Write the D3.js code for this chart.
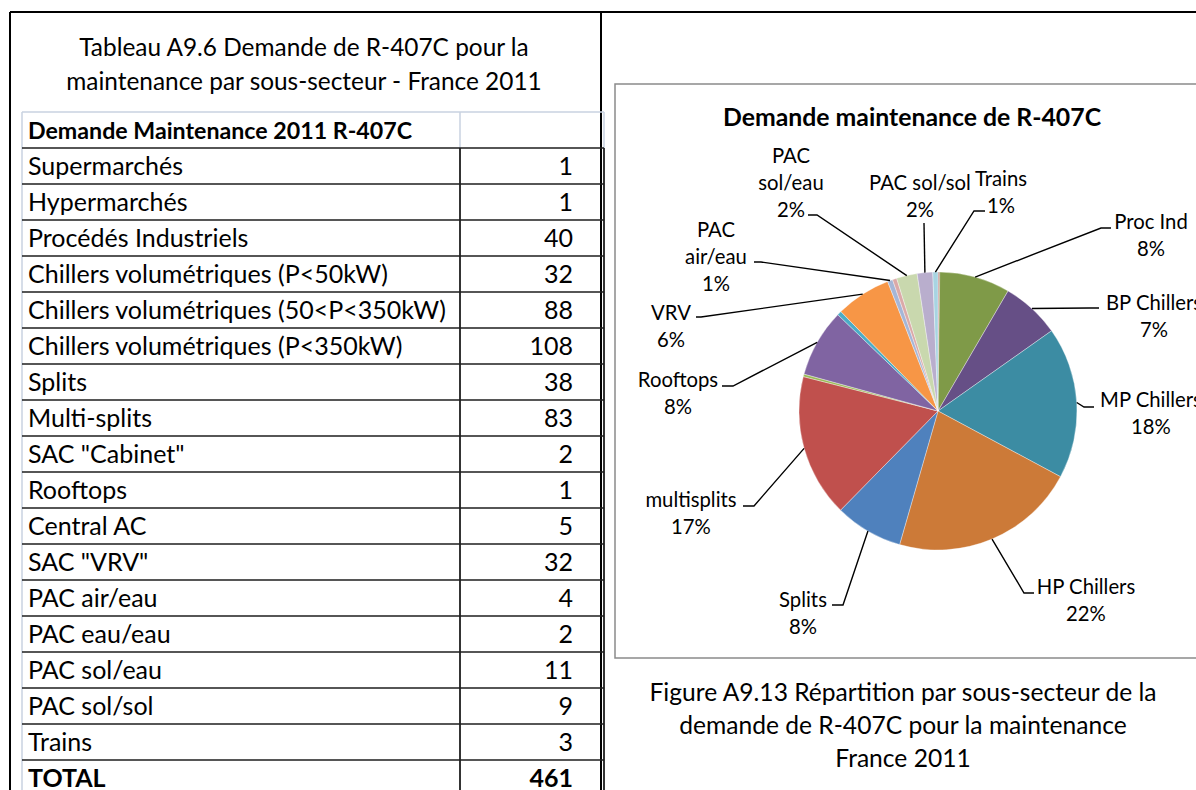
<!DOCTYPE html>
<html>
<head>
<meta charset="utf-8">
<script src="https://cdn.jsdelivr.net/npm/d3@7"></script>
<style>
  html, body { margin: 0; padding: 0; background: #fff; }
  svg { display: block; font-family: Lato, "Open Sans", sans-serif; }
</style>
</head>
<body>
<svg id="fig" width="1196" height="790"></svg>
<script>
// ---- Table: R-407C maintenance demand by sub-sector ----
const tableCaption = ["Tableau A9.6 Demande de R-407C pour la",
                      "maintenance par sous-secteur - France 2011"];
const tableHeader = "Demande Maintenance 2011 R-407C";
const tableRows = ["Supermarchés", "Hypermarchés", "Procédés Industriels",
  "Chillers volumétriques (P<50kW)", "Chillers volumétriques (50<P<350kW)",
  "Chillers volumétriques (P<350kW)", "Splits", "Multi-splits", "SAC \"Cabinet\"",
  "Rooftops", "Central AC", "SAC \"VRV\"", "PAC air/eau", "PAC eau/eau",
  "PAC sol/eau", "PAC sol/sol", "Trains"];
const tableValues = [1, 1, 40, 32, 88, 108, 38, 83, 2, 1, 5, 32, 4, 2, 11, 9, 3];
const totalLabel = "TOTAL";
const totalValue = 461;

// ---- Pie: share of maintenance demand ----
const chartTitle = "Demande maintenance de R-407C";
const pieNames = ["Supermarchés", "Hypermarchés", "Proc Ind", "BP Chillers",
  "MP Chillers", "HP Chillers", "Splits", "multisplits", "SAC Cabinet", "Rooftops",
  "Central AC", "VRV", "PAC air/eau", "PAC eau/eau", "PAC sol/eau", "PAC sol/sol", "Trains"];
const pieValues = [1, 1, 82, 68, 176, 216, 79, 166, 3, 79, 5, 64, 6, 5, 24, 18, 6];
// Label text per slice ("" = no label drawn)
const pieLabelText = ["", "", "Proc Ind", "BP Chillers", "MP Chillers", "HP Chillers",
  "Splits", "multisplits", "", "Rooftops", "", "VRV", "PAC\nair/eau", "",
  "PAC\nsol/eau", "PAC sol/sol", "Trains"];
const pieColors = ["#A3403D", "#8E3533", "#7F9A48", "#664F86", "#3C8CA3", "#CC7A38",
  "#4F81BD", "#C0504D", "#9BBB59", "#8064A2", "#4BACC6", "#F79646", "#A5B6D7",
  "#DBA9A8", "#C9D8AE", "#B9AECD", "#A8D4E2"];

const figureCaption = ["Figure A9.13 Répartition par sous-secteur de la",
  "demande de R-407C pour la maintenance", "France 2011"];

const svg = d3.select("#fig");

// ---- Outer frame ----
const frame = svg.append("g").attr("stroke", "#000").attr("stroke-width", 2);
frame.append("line").attr("x1", 10).attr("x2", 1196).attr("y1", 12).attr("y2", 12);
frame.append("line").attr("x1", 10).attr("x2", 10).attr("y1", 12).attr("y2", 790);
frame.append("line").attr("x1", 601).attr("x2", 601).attr("y1", 12).attr("y2", 790);

// ---- Table caption ----
svg.append("g").selectAll("text").data(tableCaption).join("text")
  .attr("x", 304).attr("y", (d, i) => 56 + i * 34)
  .attr("text-anchor", "middle").attr("font-size", 24.4).attr("fill", "#000")
  .text(d => d);

// ---- Table ----
const tLeft = 22, tMid = 460, tRight = 604;
const rowKeys = [tableHeader, ...tableRows, totalLabel];
const rowVals = [null, ...tableValues, totalValue];
const y = d3.scaleBand().domain(rowKeys).range([112, 112 + rowKeys.length * 36]).padding(0);

const table = svg.append("g");
// light gridlines of the header cells and left edge
table.append("line").attr("x1", tLeft).attr("x2", tRight).attr("y1", y(tableHeader)).attr("y2", y(tableHeader))
  .attr("stroke", "#C9D2E0").attr("stroke-width", 1.5);
table.append("line").attr("x1", tLeft).attr("x2", tLeft).attr("y1", y(tableHeader)).attr("y2", 790)
  .attr("stroke", "#C9D2E0").attr("stroke-width", 1.5);
table.append("line").attr("x1", tMid).attr("x2", tMid).attr("y1", y(tableHeader)).attr("y2", y(tableRows[0]))
  .attr("stroke", "#C9D2E0").attr("stroke-width", 1.5);
table.append("line").attr("x1", tRight).attr("x2", tRight).attr("y1", y(tableHeader)).attr("y2", y(tableRows[0]))
  .attr("stroke", "#C9D2E0").attr("stroke-width", 1.5);
// dark borders of the data cells
const dataKeys = [...tableRows, totalLabel];
table.append("g").selectAll("line").data(dataKeys).join("line")
  .attr("x1", tLeft).attr("x2", tRight)
  .attr("y1", d => y(d)).attr("y2", d => y(d))
  .attr("stroke", "#1e1e1e").attr("stroke-width", 1.6);
table.append("line").attr("x1", tMid).attr("x2", tMid).attr("y1", y(tableRows[0])).attr("y2", 790)
  .attr("stroke", "#1e1e1e").attr("stroke-width", 1.8);
table.append("line").attr("x1", tRight).attr("x2", tRight).attr("y1", y(tableRows[0])).attr("y2", 790)
  .attr("stroke", "#1e1e1e").attr("stroke-width", 1.8);

const boldRow = k => k === tableHeader || k === totalLabel;
const rowFs = 25;
table.append("g").selectAll("text").data(rowKeys).join("text")
  .attr("x", tLeft + 6).attr("y", d => y(d) + y.bandwidth() / 2 + 8.5)
  .attr("font-size", d => d === tableHeader ? 23.2 : rowFs)
  .attr("font-weight", d => boldRow(d) ? "bold" : "normal")
  .attr("fill", "#000").text(d => d);
table.append("g").selectAll("text").data(rowKeys.map((k, i) => [k, rowVals[i]]).filter(d => d[1] !== null)).join("text")
  .attr("x", 573).attr("y", d => y(d[0]) + y.bandwidth() / 2 + 8.5)
  .attr("text-anchor", "end").attr("font-size", rowFs)
  .attr("font-weight", d => boldRow(d[0]) ? "bold" : "normal")
  .attr("fill", "#000").text(d => d[1]);

// ---- Chart box ----
svg.append("rect").attr("x", 615).attr("y", 84).attr("width", 620).attr("height", 574)
  .attr("fill", "#fff").attr("stroke", "#8A8A8A").attr("stroke-width", 1.5);
svg.append("text").attr("x", 912).attr("y", 126).attr("text-anchor", "middle")
  .attr("font-size", 24.8).attr("font-weight", "bold").attr("fill", "#000").text(chartTitle);

// ---- Pie ----
const cx = 938, cy = 411, R = 139;
const pie = d3.pie().sort(null).value(d => d.v).startAngle(0).endAngle(2 * Math.PI);
const slices = pie(pieValues.map((v, i) => ({ v, i, name: pieNames[i] })));
const arc = d3.arc().innerRadius(0).outerRadius(R);
const edge = d3.arc().innerRadius(R).outerRadius(R);
const pieTotal = d3.sum(pieValues);
const pct = d3.format(".0%");

const gPie = svg.append("g").attr("transform", `translate(${cx},${cy})`);
gPie.selectAll("path").data(slices).join("path")
  .attr("d", arc).attr("fill", d => pieColors[d.data.i])
  .attr("stroke", "#ffffff").attr("stroke-width", 0.5).attr("stroke-opacity", 0.7);

// Label placement for each labelled slice: first-line centre, leader elbow and end
const labelLayout = {
  2:  { x: 1151, y: 222, elbow: [1101, 228], end: [1111, 228] },
  3:  { x: 1154, y: 303, elbow: [1089, 308], end: [1099, 308] },
  4:  { x: 1151, y: 400, elbow: [1084, 407], end: [1094, 407] },
  5:  { x: 1086, y: 587, elbow: [1024, 593], end: [1034, 593] },
  6:  { x: 803,  y: 600, elbow: [843, 605],  end: [832, 605] },
  7:  { x: 691,  y: 500, elbow: [754, 506],  end: [743, 506] },
  9:  { x: 678,  y: 380, elbow: [733, 386],  end: [722, 386] },
  11: { x: 671,  y: 313, elbow: [701, 317],  end: [696, 317] },
  12: { x: 716,  y: 230, elbow: [761, 262],  end: [754, 262] },
  14: { x: 791,  y: 156, elbow: [817, 215],  end: [808, 215] },
  15: { x: 920,  y: 183, elbow: [924, 223],  end: [924, 223] },
  16: { x: 1001, y: 179, elbow: [974, 211],  end: [985, 211] }
};
const labelled = slices.filter(d => pieLabelText[d.data.i] !== "");
const gLab = svg.append("g");
gLab.selectAll("path").data(labelled).join("path")
  .attr("fill", "none").attr("stroke", "#000").attr("stroke-width", 1.4)
  .attr("d", d => {
    const L = labelLayout[d.data.i];
    const p = edge.centroid(d);
    return d3.line()([[cx + p[0], cy + p[1]], L.elbow, L.end]);
  });
const labelFs = 20.3, lineGap = 27;
gLab.selectAll("text").data(labelled).join("text")
  .attr("text-anchor", "middle").attr("font-size", labelFs).attr("fill", "#000")
  .each(function (d) {
    const L = labelLayout[d.data.i];
    const lines = [...pieLabelText[d.data.i].split("\n"), pct(d.data.v / pieTotal)];
    d3.select(this).selectAll("tspan").data(lines).join("tspan")
      .attr("x", L.x).attr("y", (t, k) => L.y + k * lineGap + 7).text(t => t);
  });

// ---- Figure caption ----
svg.append("g").selectAll("text").data(figureCaption).join("text")
  .attr("x", 903).attr("y", (d, i) => 701 + i * 33)
  .attr("text-anchor", "middle").attr("font-size", 24.6).attr("fill", "#000")
  .text(d => d);
</script>
</body>
</html>
